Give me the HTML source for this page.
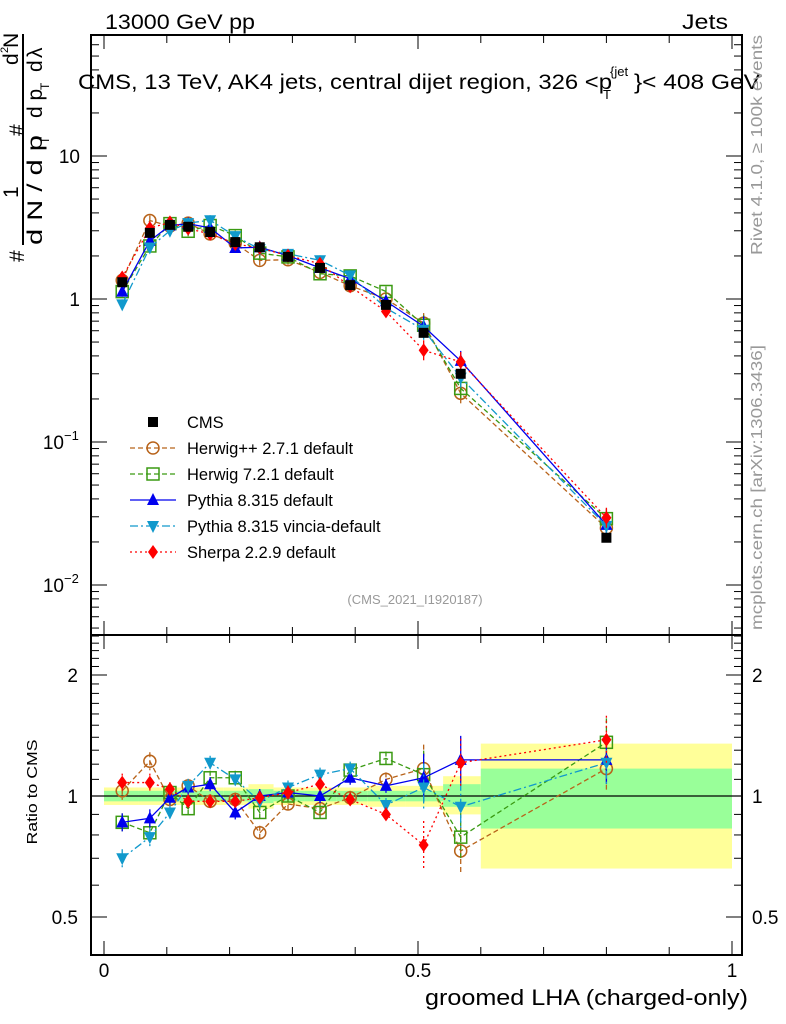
<!DOCTYPE html>
<html><head><meta charset="utf-8"><style>
body{margin:0;background:#fff}
svg{display:block;font-family:"Liberation Sans",sans-serif}
</style></head><body>
<svg id="c" width="786" height="1024" xmlns="http://www.w3.org/2000/svg">
<rect x="0" y="0" width="786" height="1024" fill="#fff"/>
<g id="bands"></g>
<g id="axes"></g>
<g id="series"></g>
<text x="105" y="29" font-size="21" textLength="150" lengthAdjust="spacingAndGlyphs">13000 GeV pp</text>
<text x="682" y="29" font-size="21" textLength="46" lengthAdjust="spacingAndGlyphs">Jets</text>
<g font-size="21">
<text x="78" y="89" textLength="534" lengthAdjust="spacingAndGlyphs">CMS, 13 TeV, AK4 jets, central dijet region, 326 &lt;p</text>
<text x="603" y="99" font-size="13">T</text>
<text x="610" y="76" font-size="13">{jet</text>
<text x="634" y="89" textLength="126" lengthAdjust="spacingAndGlyphs">}&lt; 408 GeV</text>
</g>
<text x="415" y="604" font-size="13" fill="#999" text-anchor="middle">(CMS_2021_I1920187)</text>
<text transform="translate(762,255) rotate(-90)" font-size="16" fill="#999" textLength="220" lengthAdjust="spacingAndGlyphs">Rivet 4.1.0, ≥ 100k events</text>
<text transform="translate(762,630) rotate(-90)" font-size="16" fill="#999" textLength="285" lengthAdjust="spacingAndGlyphs">mcplots.cern.ch [arXiv:1306.3436]</text>
<g transform="translate(0,270) rotate(-90)" font-size="21">
<text x="8" y="24">#</text>
<line x1="25" y1="23" x2="236" y2="23" stroke="#000" stroke-width="2"/>
<text x="72" y="18">1</text>
<text x="25" y="42" textLength="110" lengthAdjust="spacingAndGlyphs">d N / d p</text>
<text x="126" y="49" font-size="12">T</text>
<text x="134" y="24">#</text>
<text x="205" y="18">d</text><text x="217" y="8" font-size="11">2</text><text x="222" y="18">N</text>
<text x="152" y="42">d p</text><text x="180" y="49" font-size="12">T</text><text x="198" y="42">d</text><text x="212" y="42">λ</text>
</g>
<text x="37" y="792" font-size="15" transform="rotate(-90,37,792)" text-anchor="middle" textLength="105" lengthAdjust="spacingAndGlyphs">Ratio to CMS</text>
<text x="425" y="1005" font-size="22" textLength="323" lengthAdjust="spacingAndGlyphs">groomed LHA (charged-only)</text>
<g id="legend"></g>
</svg>
<script>
const xCenters=[0.029,0.073,0.105,0.134,0.169,0.209,0.248,0.293,0.344,0.392,0.449,0.509,0.568,0.800];
const binEdges=[0.0,0.055,0.09,0.12,0.15,0.19,0.23,0.27,0.32,0.37,0.42,0.48,0.54,0.6,1.0];
const cmsValues=[1.31,2.9,3.3,3.2,2.94,2.5,2.3,1.97,1.65,1.25,0.91,0.58,0.30,0.0214];
const bandYellowUp=[0.05,0.05,0.05,0.05,0.05,0.05,0.07,0.05,0.05,0.05,0.06,0.06,0.12,0.35];
const bandYellowDn=[0.05,0.05,0.05,0.05,0.05,0.05,0.07,0.05,0.05,0.05,0.06,0.06,0.10,0.34];
const bandGreenUp=[0.03,0.03,0.03,0.03,0.03,0.03,0.04,0.03,0.03,0.03,0.03,0.03,0.07,0.17];
const bandGreenDn=[0.03,0.03,0.03,0.03,0.03,0.03,0.04,0.03,0.03,0.03,0.03,0.03,0.06,0.17];
const herwigppRatio=[1.03,1.22,0.98,1.06,0.97,0.98,0.81,0.955,0.93,0.99,1.10,1.17,0.73,1.17];
const herwig7Ratio=[0.86,0.81,1.02,0.93,1.11,1.11,0.91,1.0,0.91,1.16,1.24,1.13,0.79,1.36];
const pythiaRatio=[0.86,0.88,0.99,1.05,1.07,0.91,1.0,1.02,1.0,1.11,1.06,1.11,1.23,1.23];
const vinciaRatio=[0.70,0.79,0.91,1.06,1.21,1.10,0.97,1.05,1.13,1.17,0.95,1.05,0.94,1.21];
const sherpaRatio=[1.08,1.08,1.04,0.97,0.97,0.97,0.99,1.02,1.07,0.98,0.90,0.755,1.21,1.38];
const legendLabels=["CMS","Herwig++ 2.7.1 default","Herwig 7.2.1 default","Pythia 8.315 default","Pythia 8.315 vincia-default","Sherpa 2.2.9 default"];

const NS="http://www.w3.org/2000/svg";
const X=v=>104+628*v;
const Y=v=>299-143*Math.log10(v);
const R=v=>796-121*Math.log2(v);
const XL=91,XR=742,YT=35,YM=635,YB=955;
function mk(tag,attrs,parent){const e=document.createElementNS(NS,tag);for(const k in attrs)e.setAttribute(k,attrs[k]);parent.appendChild(e);return e;}
const axes=document.getElementById('axes'),bands=document.getElementById('bands'),ser=document.getElementById('series'),leg=document.getElementById('legend');

for(let i=0;i<binEdges.length-1;i++){
  const x0=X(binEdges[i]),x1=X(binEdges[i+1]);
  const y=mk('rect',{x:x0,y:R(1+bandYellowUp[i]),width:x1-x0,height:R(1-bandYellowDn[i])-R(1+bandYellowUp[i]),fill:'#ffff99'},bands);
  
  
  const g=mk('rect',{x:x0,y:R(1+bandGreenUp[i]),width:x1-x0,height:R(1-bandGreenDn[i])-R(1+bandGreenUp[i]),fill:'#99ff99'},bands);
  
  
}
mk('line',{x1:XL,x2:XR,y1:R(1),y2:R(1),stroke:'#000','stroke-width':1.2},bands);

const f1=mk('rect',{x:XL,y:YT,width:XR-XL,height:YM-YT,fill:'none',stroke:'#000','stroke-width':2},axes);


const f2=mk('rect',{x:XL,y:YM,width:XR-XL,height:YB-YM,fill:'none',stroke:'#000','stroke-width':2},axes);



for(let j=0;j<=10;j++){
  const k=j/10,x=X(k),big=(j%5==0);
  const h=big?14:8;
  mk('line',{x1:x,x2:x,y1:YT,y2:YT+h,stroke:'#000'},axes);
  mk('line',{x1:x,x2:x,y1:YM,y2:YM-h,stroke:'#000'},axes);
  mk('line',{x1:x,x2:x,y1:YM,y2:YM+h,stroke:'#000'},axes);
  mk('line',{x1:x,x2:x,y1:YB,y2:YB-h,stroke:'#000'},axes);
}
const xLabels=["0","0.5","1"];
[0,0.5,1].forEach((v,i)=>{const t=mk('text',{x:X(v),y:977,'font-size':19,'text-anchor':'middle'},axes);t.textContent=xLabels[i];

});

for(let d=-3;d<=1;d++){for(let m=1;m<10;m++){const v=m*Math.pow(10,d),y=Y(v);if(y<YT||y>YM)continue;const h=m==1?16:8;
mk('line',{x1:XL,x2:XL+h,y1:y,y2:y,stroke:'#000'},axes);mk('line',{x1:XR,x2:XR-h,y1:y,y2:y,stroke:'#000'},axes);}}
const yLabels=[["10",10],["1",1],["10",0.1,"−1"],["10",0.01,"−2"]];
yLabels.forEach(a=>{const t=mk('text',{x:a[2]?64:80,y:Y(a[1])+7,'font-size':19,'text-anchor':'end'},axes);t.textContent=a[0];


if(a[2]){const s=mk('text',{x:64,y:Y(a[1])-2,'font-size':13},axes);s.textContent=a[2];}});

for(let j=4;j<=25;j++){const v=j/10,y=R(v);if(y<YM||y>YB)continue;const big=(j==5||j==10||j==20);const h=big?16:8;
mk('line',{x1:XL,x2:XL+h,y1:y,y2:y,stroke:'#000'},axes);mk('line',{x1:XR,x2:XR-h,y1:y,y2:y,stroke:'#000'},axes);}
[["2",2],["1",1],["0.5",0.5]].forEach(a=>{
 const t=mk('text',{x:78,y:R(a[1])+7,'font-size':19,'text-anchor':'end'},axes);t.textContent=a[0];
 
 
 const t2=mk('text',{x:752,y:R(a[1])+7,'font-size':19},axes);t2.textContent=a[0];
 
 });

function marker(kind,color,x,y,p){
 let e;
 if(kind=='sq')e=mk('rect',{x:x-5,y:y-5,width:10,height:10,fill:'#000'},p);
 if(kind=='osq')e=mk('rect',{x:x-6,y:y-6,width:12,height:12,fill:'none',stroke:color,'stroke-width':1.5},p);
 if(kind=='oc')e=mk('circle',{cx:x,cy:y,r:6,fill:'none',stroke:color,'stroke-width':1.5},p);
 if(kind=='tu')e=mk('polygon',{points:`${x},${y-7} ${x-6},${y+5} ${x+6},${y+5}`,fill:color},p);
 if(kind=='td')e=mk('polygon',{points:`${x},${y+7} ${x-6},${y-5} ${x+6},${y-5}`,fill:color},p);
 if(kind=='di')e=mk('polygon',{points:`${x},${y-7} ${x-5},${y} ${x},${y+7} ${x+5},${y}`,fill:color},p);
 return e;
}
const series=[
 {n:'herwigpp',r:herwigppRatio,c:'#b8631a',m:'oc',d:'5,3'},
 {n:'herwig7',r:herwig7Ratio,c:'#3a9a12',m:'osq',d:'5,3'},
 {n:'pythia',r:pythiaRatio,c:'#0000ee',m:'tu',d:''},
 {n:'vincia',r:vinciaRatio,c:'#1199cc',m:'td',d:'8,3,2,3'},
 {n:'sherpa',r:sherpaRatio,c:'#ff0000',m:'di',d:'2,3'}];
series.forEach(s=>{
 const g=mk('g',{},ser);
 
 
 const pm=xCenters.map((x,i)=>X(x)+','+Y(cmsValues[i]*s.r[i])).join(' ');
 const pr=xCenters.map((x,i)=>X(x)+','+R(s.r[i])).join(' ');
 mk('polyline',{points:pm,fill:'none',stroke:s.c,'stroke-width':1.3,'stroke-dasharray':s.d},g);
 mk('polyline',{points:pr,fill:'none',stroke:s.c,'stroke-width':1.3,'stroke-dasharray':s.d},g);
 xCenters.forEach((x,i)=>{
  const yr=R(s.r[i]),e=i>=11?24:(i<2?9:7);
  mk('line',{x1:X(x),x2:X(x),y1:yr-e,y2:yr+e,stroke:s.c,'stroke-width':1.3,'stroke-dasharray':s.d},g);
  const ym=Y(cmsValues[i]*s.r[i]),em=i>=11?10:5;
  mk('line',{x1:X(x),x2:X(x),y1:ym-em,y2:ym+em,stroke:s.c,'stroke-width':1.3},g);
  const m1=marker(s.m,s.c,X(x),ym,g);
  
  
  const m2=marker(s.m,s.c,X(x),yr,g);
  
  
 });
});
xCenters.forEach((x,i)=>{const m=marker('sq','#000',X(x),Y(cmsValues[i]),ser);
 
 });

const legKinds=[['sq','#000',''],['oc','#b8631a','5,3'],['osq','#3a9a12','5,3'],['tu','#0000ee',''],['td','#1199cc','8,3,2,3'],['di','#ff0000','2,3']];
legendLabels.forEach((lab,i)=>{
 const y=422+26*i;
 const g=mk('g',{},leg);
 
 
 if(i>0)mk('line',{x1:130,x2:176,y1:y,y2:y,stroke:legKinds[i][1],'stroke-width':1.3,'stroke-dasharray':legKinds[i][2]},g);
 marker(legKinds[i][0],legKinds[i][1],153,y,g);
 const t=mk('text',{x:187,y:y+6,'font-size':16.5},g);t.textContent=lab;
});
</script>
</body></html>
